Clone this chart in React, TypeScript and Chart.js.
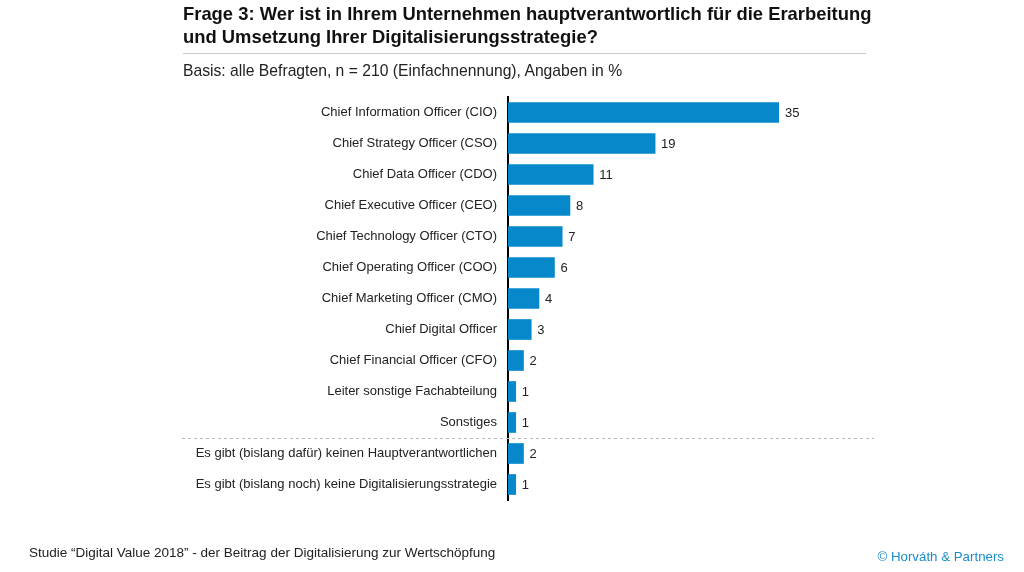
import React, { useEffect, useRef } from "react";
import { Chart, registerables } from "chart.js";

Chart.register(...registerables);

const categories = [
  "Chief Information Officer (CIO)",
  "Chief Strategy Officer (CSO)",
  "Chief Data Officer (CDO)",
  "Chief Executive Officer (CEO)",
  "Chief Technology Officer (CTO)",
  "Chief Operating Officer (COO)",
  "Chief Marketing Officer (CMO)",
  "Chief Digital Officer",
  "Chief Financial Officer (CFO)",
  "Leiter sonstige Fachabteilung",
  "Sonstiges",
  "Es gibt (bislang dafür) keinen Hauptverantwortlichen",
  "Es gibt (bislang noch) keine Digitalisierungsstrategie",
];
const values = [35, 19, 11, 8, 7, 6, 4, 3, 2, 1, 1, 2, 1];
const separatorAfterIndex = 10;

const titleText1 = "Frage 3: Wer ist in Ihrem Unternehmen hauptverantwortlich für die Erarbeitung";
const titleText2 = "und Umsetzung Ihrer Digitalisierungsstrategie?";
const subtitleText = "Basis: alle Befragten, n = 210 (Einfachnennung), Angaben in %";
const footerText = "Studie “Digital Value 2018” - der Beitrag der Digitalisierung zur Wertschöpfung";
const copyrightText = "© Horváth & Partners";

const FONT = "Arial, 'Liberation Sans', sans-serif";

const extrasPlugin = {
  id: "extras",
  afterDatasetsDraw(chart: any) {
    const ctx = chart.ctx;
    const meta = chart.getDatasetMeta(0);
    ctx.save();
    ctx.font = `13px ${FONT}`;
    ctx.fillStyle = "#222";
    ctx.textAlign = "left";
    ctx.textBaseline = "middle";
    meta.data.forEach((bar: any, i: number) => {
      ctx.fillText(String(values[i]), bar.x + 6, bar.y + 1);
    });
    const y = chart.scales.y;
    const ySep =
      (y.getPixelForValue(separatorAfterIndex) + y.getPixelForValue(separatorAfterIndex + 1)) / 2;
    ctx.strokeStyle = "#b8b8b8";
    ctx.lineWidth = 1;
    ctx.setLineDash([3, 3]);
    ctx.beginPath();
    ctx.moveTo(182, Math.round(ySep) + 0.5);
    ctx.lineTo(874, Math.round(ySep) + 0.5);
    ctx.stroke();
    ctx.restore();
  },
};

export default function App() {
  const ref = useRef<HTMLCanvasElement | null>(null);
  useEffect(() => {
    if (!ref.current) return;
    const chart = new Chart(ref.current, {
      type: "bar",
      data: {
        labels: categories,
        datasets: [
          {
            data: values,
            backgroundColor: "#0788cb",
            barThickness: 20,
          },
        ],
      },
      options: {
        indexAxis: "y",
        animation: false,
        responsive: false,
        maintainAspectRatio: false,
        layout: { padding: { top: 97, bottom: 72, left: 0, right: 245 } },
        plugins: { legend: { display: false }, tooltip: { enabled: false }, title: { display: false } },
        scales: {
          x: { display: false, min: 0, max: 35 },
          y: {
            afterFit(scale: any) {
              scale.width = 508;
            },
            grid: { display: false, drawTicks: false },
            border: { display: true, color: "#000", width: 2 },
            ticks: {
              padding: 11,
              color: "#222",
              font: { family: FONT, size: 13 },
            },
          },
        },
      },
      plugins: [extrasPlugin],
    });
    return () => chart.destroy();
  }, []);

  return (
    <div
      style={{
        position: "fixed",
        left: 0,
        top: 0,
        width: 1024,
        height: 572,
        background: "#fff",
        fontFamily: FONT,
        overflow: "hidden",
      }}
    >
      <canvas ref={ref} width={1024} height={572} style={{ position: "absolute", left: 0, top: 0 }} />
      <div
        style={{
          position: "absolute",
          left: 183,
          top: 2,
          fontSize: 18.4,
          fontWeight: "bold",
          lineHeight: "23px",
          color: "#111",
          whiteSpace: "nowrap",
        }}
      >
        <div>{titleText1}</div>
        <div>{titleText2}</div>
      </div>
      <div style={{ position: "absolute", left: 183, top: 53, width: 683, height: 1, background: "#c8c8c8" }} />
      <div style={{ position: "absolute", left: 183, top: 62, fontSize: 15.7, color: "#222", whiteSpace: "nowrap" }}>
        {subtitleText}
      </div>
      <div style={{ position: "absolute", left: 29, top: 545, fontSize: 13.5, color: "#222", whiteSpace: "nowrap" }}>
        {footerText}
      </div>
      <div style={{ position: "absolute", right: 20, top: 549, fontSize: 13.3, color: "#1a8cc8", whiteSpace: "nowrap" }}>
        {copyrightText}
      </div>
    </div>
  );
}
